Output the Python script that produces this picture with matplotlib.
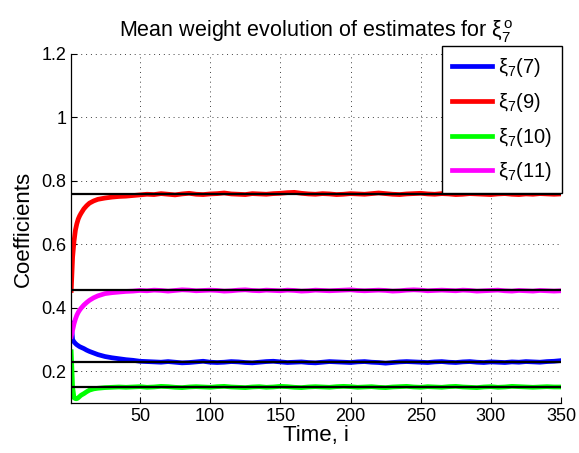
import matplotlib
matplotlib.use("Agg")
import matplotlib.pyplot as plt
from matplotlib.ticker import FuncFormatter

plt.rcParams['font.family'] = ['Liberation Sans', 'DejaVu Sans']
plt.rcParams['mathtext.fontset'] = 'custom'
plt.rcParams['mathtext.rm'] = 'Liberation Sans'
plt.rcParams['mathtext.it'] = 'Liberation Sans'
plt.rcParams['mathtext.bf'] = 'Liberation Sans:bold'

# time index of the samples
time_early = [1, 2, 3, 4, 5, 6, 7, 8, 10, 12, 14, 17, 20, 25, 30, 35, 40, 45]
time_late = list(range(50, 351, 5))
time = time_early + time_late

# mean weight estimates
xi7_7 = [0.352, 0.300, 0.293, 0.288, 0.284, 0.281, 0.278, 0.276, 0.272, 0.267,
         0.263, 0.258, 0.253, 0.247, 0.243, 0.240, 0.237, 0.235,
         0.232, 0.231, 0.230, 0.229, 0.231, 0.229, 0.227, 0.228, 0.230, 0.232,
         0.229, 0.228, 0.229, 0.231, 0.230, 0.228, 0.227, 0.229, 0.231, 0.232,
         0.230, 0.228, 0.229, 0.230, 0.228, 0.227, 0.229, 0.231, 0.230, 0.229,
         0.228, 0.230, 0.231, 0.229, 0.228, 0.226, 0.228, 0.230, 0.231, 0.230,
         0.229, 0.228, 0.230, 0.231, 0.229, 0.228, 0.230, 0.231, 0.229, 0.228,
         0.230, 0.229, 0.228, 0.230, 0.229, 0.231, 0.230, 0.229, 0.231, 0.232,
         0.234]
xi7_9 = [0.455, 0.560, 0.610, 0.645, 0.665, 0.680, 0.690, 0.698, 0.712, 0.722,
         0.730, 0.737, 0.742, 0.746, 0.749, 0.751, 0.752, 0.754,
         0.756, 0.758, 0.757, 0.760, 0.758, 0.756, 0.759, 0.761, 0.758, 0.757,
         0.759, 0.760, 0.762, 0.759, 0.758, 0.757, 0.760, 0.759, 0.758, 0.760,
         0.761, 0.763, 0.764, 0.761, 0.759, 0.758, 0.760, 0.759, 0.757, 0.758,
         0.760, 0.759, 0.758, 0.760, 0.762, 0.760, 0.758, 0.757, 0.759, 0.760,
         0.761, 0.759, 0.758, 0.760, 0.759, 0.757, 0.758, 0.760, 0.759, 0.758,
         0.757, 0.759, 0.760, 0.758, 0.757, 0.759, 0.758, 0.760, 0.759, 0.758,
         0.759]
xi7_10 = [0.262, 0.150, 0.117, 0.114, 0.114, 0.117, 0.121, 0.125, 0.130, 0.136,
          0.141, 0.145, 0.147, 0.149, 0.150, 0.151, 0.150, 0.151,
          0.152, 0.150, 0.151, 0.153, 0.152, 0.150, 0.149, 0.151, 0.152, 0.151,
          0.150, 0.152, 0.153, 0.151, 0.150, 0.149, 0.151, 0.152, 0.150, 0.151,
          0.153, 0.152, 0.150, 0.149, 0.151, 0.152, 0.151, 0.150, 0.152, 0.153,
          0.152, 0.150, 0.151, 0.152, 0.150, 0.149, 0.151, 0.152, 0.153, 0.151,
          0.150, 0.152, 0.151, 0.150, 0.152, 0.153, 0.151, 0.150, 0.149, 0.151,
          0.152, 0.150, 0.151, 0.153, 0.152, 0.151, 0.150, 0.151, 0.152, 0.151,
          0.151]
xi7_11 = [0.310, 0.330, 0.350, 0.365, 0.377, 0.386, 0.393, 0.399, 0.409, 0.417,
          0.424, 0.432, 0.438, 0.445, 0.448, 0.450, 0.452, 0.453,
          0.455, 0.454, 0.456, 0.455, 0.453, 0.455, 0.457, 0.456, 0.454, 0.455,
          0.456, 0.455, 0.453, 0.454, 0.456, 0.457, 0.455, 0.454, 0.456, 0.455,
          0.454, 0.456, 0.455, 0.453, 0.454, 0.456, 0.455, 0.454, 0.455, 0.456,
          0.457, 0.455, 0.454, 0.455, 0.456, 0.455, 0.453, 0.454, 0.456, 0.457,
          0.456, 0.454, 0.455, 0.456, 0.455, 0.454, 0.456, 0.455, 0.453, 0.454,
          0.455, 0.456, 0.454, 0.453, 0.455, 0.454, 0.453, 0.455, 0.454, 0.453,
          0.454]

# optimal (true) coefficient levels
true_levels = [0.2305, 0.758, 0.152, 0.455]

series = [xi7_7, xi7_9, xi7_10, xi7_11]
labels = [r'$\xi_7$(7)', r'$\xi_7$(9)', r'$\xi_7$(10)', r'$\xi_7$(11)']
colors = ['#0000ff', '#ff0000', '#00ff00', '#ff00ff']

fig = plt.figure(figsize=(5.79, 4.53), dpi=100)
ax = fig.add_axes([0.123, 0.110, 0.846, 0.771])

for y, lab, c in zip(series, labels, colors):
    ax.plot(time, y, color=c, lw=3.4, label=lab, solid_joinstyle='round',
            zorder=2)

for lvl in true_levels:
    ax.axhline(lvl, color='black', lw=1.6, zorder=4)

ax.set_xlim(1, 350)
ax.set_ylim(0.1, 1.2)
ax.set_xticks([50, 100, 150, 200, 250, 300, 350])
ax.set_yticks([0.2, 0.4, 0.6, 0.8, 1.0, 1.2])
ax.yaxis.set_major_formatter(FuncFormatter(lambda v, p: f'{v:g}'))
ax.tick_params(direction='in', labelsize=13, length=4, width=0.8)

ax.grid(True, color='0.25', linestyle=(0, (1, 4)), lw=0.7)
for s in ['top', 'right']:
    ax.spines[s].set_visible(False)
for s in ['left', 'bottom']:
    ax.spines[s].set_linewidth(0.9)

ax.set_xlabel('Time, i', fontsize=16, labelpad=0)
ax.set_ylabel('Coefficients', fontsize=16, labelpad=5)
ax.set_title(r'Mean weight evolution of estimates for $\xi_7^{\mathrm{o}}$',
             fontsize=15.5, pad=12)

leg = ax.legend(loc='upper right', bbox_to_anchor=(1.002, 1.022),
                borderaxespad=0, fontsize=14.5,
                frameon=True, fancybox=False, edgecolor='black', framealpha=1,
                handlelength=2.0, borderpad=0.5, labelspacing=0.58,
                handletextpad=0.3)
leg.get_frame().set_linewidth(1.0)

fig.savefig('out.png', dpi=100)
